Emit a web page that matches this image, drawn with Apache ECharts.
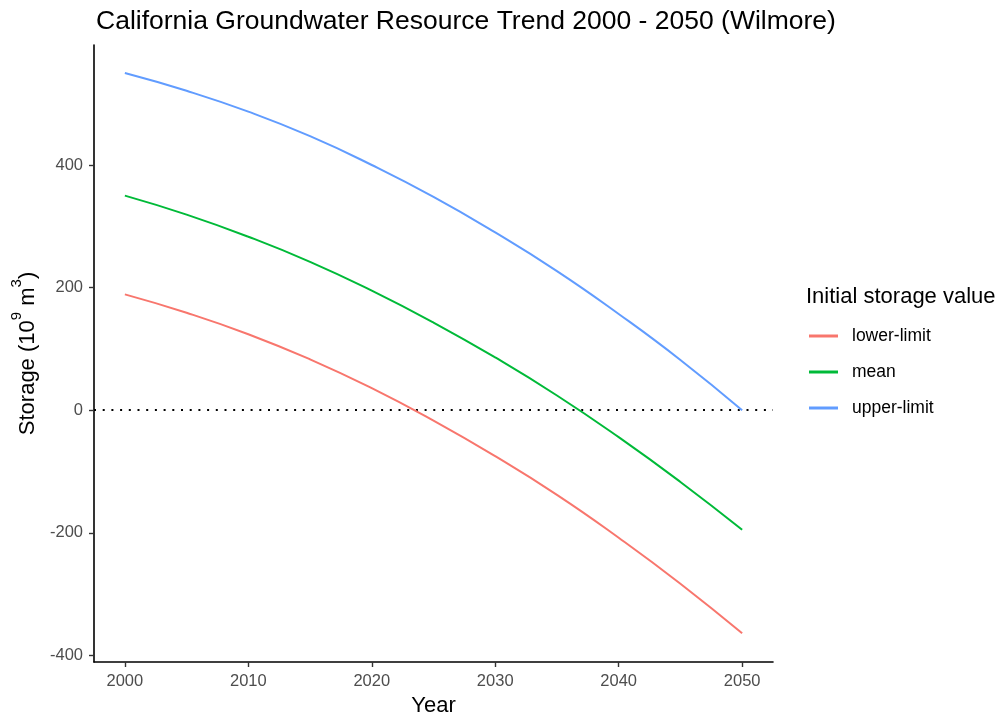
<!DOCTYPE html>
<html>
<head>
<meta charset="utf-8">
<script src="https://cdn.jsdelivr.net/npm/echarts@6/dist/echarts.min.js"></script>
<style>
  html, body { margin: 0; padding: 0; background: #ffffff; }
  #chart { width: 1000px; height: 715px; }
</style>
</head>
<body>
<div id="chart"></div>
<script>
// Projected groundwater storage (10^9 m^3), every five years
const years = [2000, 2005, 2010, 2015, 2020, 2025, 2030, 2035, 2040, 2045, 2050];
const lowerLimit = [189, 159, 124, 83, 36, -17, -75, -138, -208, -283, -364];
const meanValue  = [350, 319, 283, 242, 195, 143, 86, 24, -44, -117, -195];
const upperLimit = [550, 521, 487, 447, 400, 348, 290, 227, 157, 82, 0];

const seriesNames = ['lower-limit', 'mean', 'upper-limit'];
const seriesColors = ['#F8766D', '#00BA38', '#619CFF'];

const xTicks = [2000, 2010, 2020, 2030, 2040, 2050];
const yTicks = [-400, -200, 0, 200, 400];

const FONT = '"Liberation Sans", Arial, Helvetica, sans-serif';

function pairs(vals) {
  return years.map((y, i) => [y, vals[i]]);
}

const chart = echarts.init(document.getElementById('chart'), null, { renderer: 'canvas' });

const lineSeries = [lowerLimit, meanValue, upperLimit].map((vals, i) => ({
  name: seriesNames[i],
  type: 'line',
  data: pairs(vals),
  smooth: 0.5,
  showSymbol: false,
  symbol: 'none',
  lineStyle: { color: seriesColors[i], width: 2 },
  itemStyle: { color: seriesColors[i] },
  z: 3
}));

// dotted reference line at zero storage
lineSeries[0].markLine = {
  silent: true,
  symbol: ['none', 'none'],
  label: { show: false },
  lineStyle: { color: '#000000', type: [2, 6.7], width: 2 },
  data: [{ yAxis: 0 }],
  z: 2
};

chart.setOption({
  backgroundColor: '#ffffff',
  animation: false,
  title: [
    {
      text: 'California Groundwater Resource Trend 2000 - 2050 (Wilmore)',
      left: 96,
      top: 8,
      padding: 0,
      textStyle: { fontFamily: FONT, fontSize: 26.5, fontWeight: 'normal', color: '#000000' }
    },
    {
      text: 'Initial storage value',
      left: 806,
      top: 286,
      padding: 0,
      textStyle: { fontFamily: FONT, fontSize: 22, fontWeight: 'normal', color: '#000000' }
    }
  ],
  legend: {
    data: seriesNames,
    orient: 'vertical',
    left: 809,
    top: 327,
    padding: 0,
    icon: 'rect',
    itemWidth: 29,
    itemHeight: 3,
    itemGap: 18,
    textStyle: { fontFamily: FONT, fontSize: 17.5, color: '#000000', padding: [0, 0, 0, 9] }
  },
  grid: { left: 94, right: 227, top: 45, bottom: 53, containLabel: false, outerBoundsMode: 'none' },
  xAxis: {
    type: 'value',
    min: 1997.5,
    max: 2052.5,
    name: 'Year',
    nameLocation: 'middle',
    nameGap: 31,
    nameTextStyle: { fontFamily: FONT, fontSize: 22, color: '#000000' },
    axisLine: { show: true, onZero: false, lineStyle: { color: '#000000', width: 1.6 } },
    axisTick: { show: true, customValues: xTicks, length: 5, lineStyle: { color: '#333333', width: 1.4 } },
    axisLabel: {
      customValues: xTicks, margin: 11,
      formatter: v => String(v),
      fontFamily: FONT, fontSize: 16.5, color: '#4D4D4D'
    },
    splitLine: { show: false }
  },
  yAxis: {
    type: 'value',
    min: -410.75,
    max: 595.75,
    name: '{a|Storage (10}{s|9}{a| m}{s|3}{a|)}',
    nameLocation: 'middle',
    nameRotate: 90,
    nameGap: 54,
    nameTextStyle: {
      fontFamily: FONT, color: '#000000',
      rich: {
        a: { fontFamily: FONT, fontSize: 22, color: '#000000', lineHeight: 30, verticalAlign: 'bottom' },
        s: { fontFamily: FONT, fontSize: 15, color: '#000000', lineHeight: 30, verticalAlign: 'top' }
      }
    },
    axisLine: { show: true, onZero: false, lineStyle: { color: '#000000', width: 1.6 } },
    axisTick: { show: true, customValues: yTicks, length: 5, lineStyle: { color: '#333333', width: 1.4 } },
    axisLabel: {
      customValues: yTicks, margin: 11,
      formatter: v => String(v),
      fontFamily: FONT, fontSize: 16.5, color: '#4D4D4D'
    },
    splitLine: { show: false }
  },
  series: lineSeries
});
</script>
</body>
</html>
